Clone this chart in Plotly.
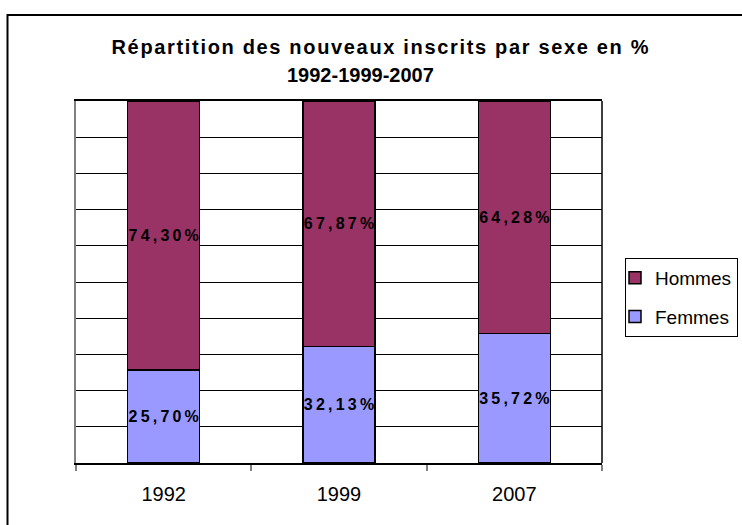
import plotly.graph_objects as go

years = ["1992", "1999", "2007"]
femmes = [25.70, 32.13, 35.72]
hommes = [74.30, 67.87, 64.28]
title_line1 = "Répartition des nouveaux inscrits par sexe en %"
title_line2 = "1992-1999-2007"

def label(v):
    s = f"{v:.2f}".replace(".", ",") + "%"
    return "\u2009".join(s)

def spaced(s):
    return "\u200a".join(s)

FONT = "Liberation Sans, Arial, sans-serif"

fig = go.Figure()
fig.add_trace(go.Bar(
    x=years, y=femmes, name="Femmes", legendgroup="f", legendrank=2,
    marker=dict(color="#9999FF", line=dict(color="#000000", width=1.5)),
    text=[label(v) for v in femmes], textposition="inside",
    insidetextanchor="middle", textangle=0, constraintext="none",
    textfont=dict(family=FONT, size=16, color="#000000", weight="bold"),
))
fig.add_trace(go.Bar(
    x=years, y=hommes, name="Hommes", legendgroup="h", legendrank=1,
    marker=dict(color="#993366", line=dict(color="#000000", width=1.5)),
    text=[label(v) for v in hommes], textposition="inside",
    insidetextanchor="middle", textangle=0, constraintext="none",
    textfont=dict(family=FONT, size=16, color="#000000", weight="bold"),
))

W, H = 742, 525
L, R, T, B = 76, 602, 101, 463
pw, ph = R - L, B - T

def px(x):
    return (x - L) / pw

def py(y):
    return (B - y) / ph

fig.update_layout(
    width=W, height=H,
    margin=dict(l=L, r=W - R, t=T, b=H - B, pad=0, autoexpand=False),
    barmode="stack", bargap=0.59,
    paper_bgcolor="white", plot_bgcolor="white",
    font=dict(family=FONT, color="#000000"),
    title=dict(
        text=spaced(title_line1),
        font=dict(family=FONT, size=20, color="#000000", weight="bold"),
        x=380 / W, xanchor="center", xref="container",
        y=1 - 47 / H, yanchor="middle", yref="container",
    ),
    annotations=[
        dict(text=title_line2, xref="paper", yref="paper",
             x=px(360), y=py(75), xanchor="center", yanchor="middle",
             showarrow=False,
             font=dict(family=FONT, size=20, color="#000000", weight="bold")),
    ],
    xaxis=dict(
        showline=True, linecolor="#000000", linewidth=1.5, mirror=True,
        ticks="outside", tickson="boundaries", ticklen=6, tickcolor="#808080", tickwidth=1.5,
        tickfont=dict(family=FONT, size=20, color="#000000"),
        ticklabelstandoff=12, showgrid=False,
    ),
    yaxis=dict(
        range=[0, 100], dtick=10, showticklabels=False, ticks="",
        showgrid=True, gridcolor="#000000", gridwidth=1,
        showline=True, linecolor="#808080", linewidth=1.5,
        zeroline=False,
    ),
    legend=dict(
        x=px(625), xanchor="left", y=py(258), yanchor="top",
        bgcolor="white", bordercolor="#000000", borderwidth=1,
        font=dict(family=FONT, size=19, color="#000000"),
        traceorder="grouped", tracegroupgap=11,
        itemwidth=30, indentation=-11,
    ),
    shapes=[
        dict(type="line", xref="paper", yref="paper", x0=1, x1=1, y0=0, y1=1,
             line=dict(color="#000000", width=1.5), layer="above"),
        dict(type="rect", xref="paper", yref="paper",
             x0=px(7.5), x1=px(800), y0=py(560), y1=py(15),
             line=dict(color="#000000", width=2), fillcolor="rgba(0,0,0,0)"),
    ],
)

fig.write_html("out.html", config={"displayModeBar": False},
               post_script="document.body.style.margin='0';")
